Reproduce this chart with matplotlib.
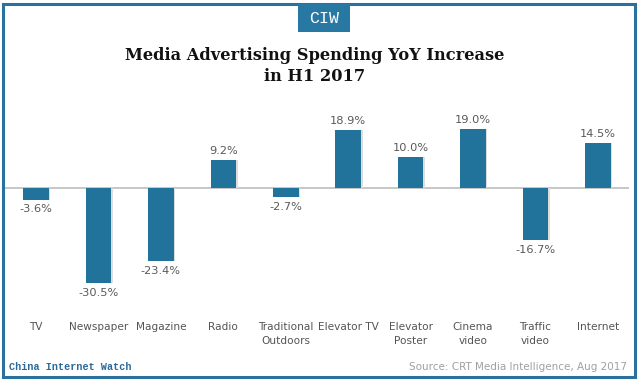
import matplotlib
matplotlib.use('Agg')
from matplotlib import pyplot as plt
from matplotlib.patches import Rectangle
import matplotlib.transforms as mtransforms

categories = ['TV', 'Newspaper', 'Magazine', 'Radio', 'Traditional\nOutdoors',
              'Elevator TV', 'Elevator\nPoster', 'Cinema\nvideo', 'Traffic\nvideo', 'Internet']
values = [-3.6, -30.5, -23.4, 9.2, -2.7, 18.9, 10.0, 19.0, -16.7, 14.5]

W, H = 640, 380
bar_color = '#21739c'
border_color = '#2a71a0'
label_gray = '#595959'

fig = plt.figure(figsize=(W / 100, H / 100), dpi=100)

# axes placed in pixel units: x 4.8..629.2, y 100..300 (from top)
ax = fig.add_axes([4.8 / W, 80 / H, 624.4 / W, 200 / H])
x = list(range(len(categories)))
# faint shadow then the bars
ax.bar([xi + 0.025 for xi in x], values, width=0.41, color='#dddddd', zorder=2.5)
ax.bar(x, values, width=0.41, color=bar_color, zorder=3)
ax.axhline(0, color='#bdbdbd', linewidth=1.2, zorder=2)
ax.set_xlim(-0.5, len(categories) - 0.5)
ax.set_ylim(-36.0, 28.5)
ax.axis('off')

for xi, v in zip(x, values):
    if v >= 0:
        ax.annotate(f'{v:.1f}%', (xi, v), xytext=(0, 3), textcoords='offset points',
                    ha='center', va='bottom', fontsize=8.2, color=label_gray)
    else:
        ax.annotate(f'{v:.1f}%', (xi, v), xytext=(0, -3.5), textcoords='offset points',
                    ha='center', va='top', fontsize=8.2, color=label_gray)

# category labels under the chart
trans = mtransforms.blended_transform_factory(ax.transData, fig.transFigure)
for xi, name in zip(x, categories):
    ax.text(xi, 1 - 322 / H, name, transform=trans, ha='center', va='top',
            fontsize=7.6, color='#555555', linespacing=1.45)

# title
fig.text(0.492, 1 - 47 / H, 'Media Advertising Spending YoY Increase\nin H1 2017',
         ha='center', va='top', fontsize=11.7, fontweight='bold',
         family='DejaVu Serif', color='#111111', linespacing=1.3)

# frame around the picture
fig.patches.append(Rectangle((3 / W, 3 / H), 632 / W, 373 / H, transform=fig.transFigure,
                             fill=False, edgecolor=border_color, linewidth=2.2))

# CIW badge
fig.patches.append(Rectangle((298 / W, 1 - 32 / H), 52 / W, 28 / H, transform=fig.transFigure,
                             facecolor='#2878a4', edgecolor='none'))
fig.text(324 / W, 1 - 18.5 / H, 'CIW', ha='center', va='center', fontsize=12,
         family='Liberation Mono', color='white')

fig.text(9 / W, 1 - 367 / H, 'China Internet Watch', ha='left', va='center',
         fontsize=7.3, family='Liberation Mono', fontweight='bold', color='#2a6a9a')
fig.text(627 / W, 1 - 367 / H, 'Source: CRT Media Intelligence, Aug 2017', ha='right',
         va='center', fontsize=7.5, color='#a0a0a0')

fig.savefig('out.png', dpi=100)
